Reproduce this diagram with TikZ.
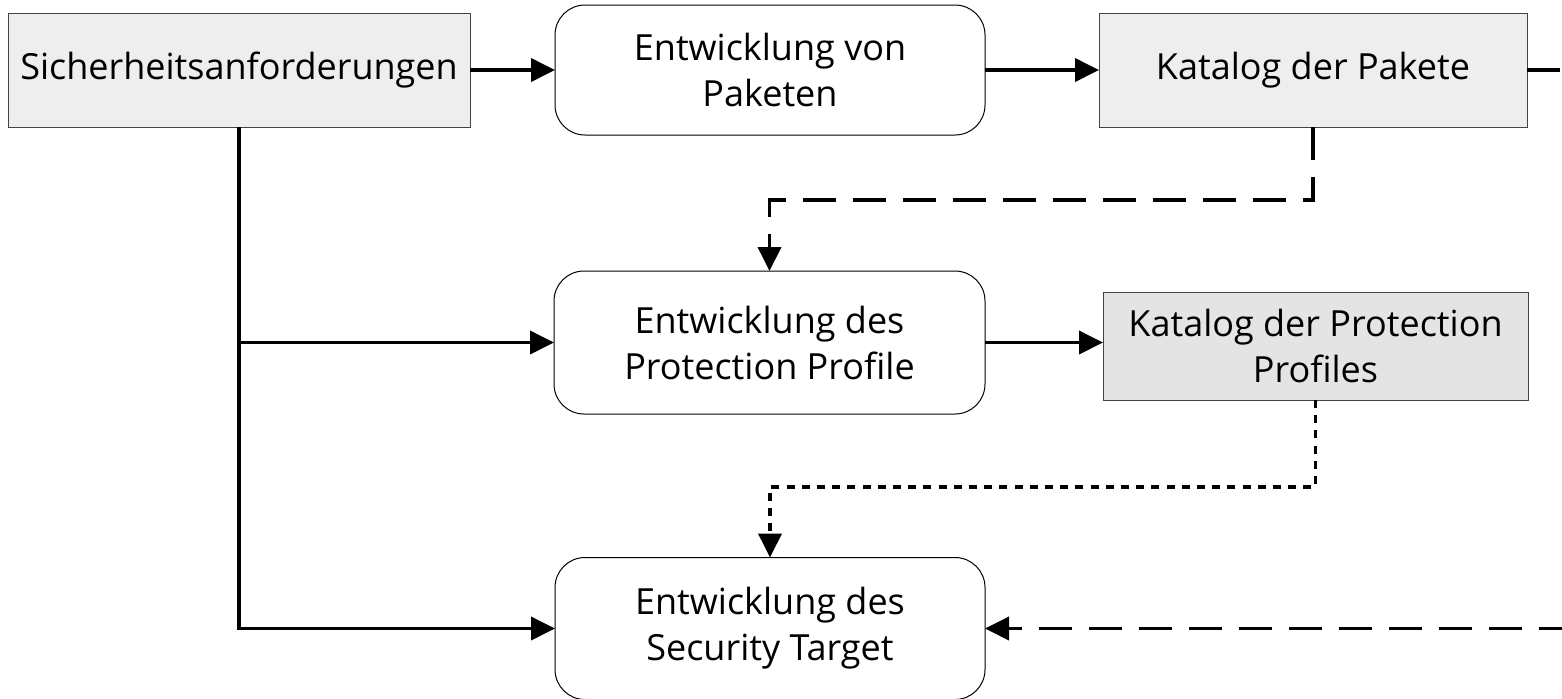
\documentclass[tikz,border=0pt]{standalone}
\usepackage{fontspec}
\setmainfont{Open Sans}
\usetikzlibrary{arrows.meta}
\definecolor{boxgray}{HTML}{EEEEEE}
\definecolor{boxgraydark}{HTML}{E4E4E4}
\definecolor{rimgray}{HTML}{444444}
\begin{document}
\begin{tikzpicture}[x=0.5pt,y=-0.5pt,
  every node/.style={font=\fontsize{18pt}{23pt}\selectfont, align=center, inner sep=0pt, outer sep=0pt},
  databox/.style={draw=rimgray, line width=0.5pt, fill=boxgray},
  procbox/.style={draw=black, line width=0.5pt, fill=white, rounded corners=15pt},
  link/.style={line width=1.9pt, -{Triangle[length=12pt,width=11.5pt]}},
  dashlink/.style={link, dash pattern=on 16.5pt off 8.5pt},
  dotlink/.style={link, dash pattern=on 4pt off 3.6pt}]
\useasboundingbox (0,0) rectangle (1562,698);
\clip (0,0) rectangle (1562,698);

% boxes (sizes in pixel units)
\node[databox, minimum width=231pt, minimum height=57pt] (req) at (239,70) {Sicherheitsanforderungen};
\node[procbox, minimum width=215pt, minimum height=65pt] (devpkg) at (770,70) {Entwicklung von\\Paketen};
\node[databox, minimum width=214pt, minimum height=57pt] (catpkg) at (1313,70) {Katalog der Pakete};
\node[procbox, minimum width=215.5pt, minimum height=71.5pt] (devpp) at (769.5,342.5) {Entwicklung des\\Protection Profile};
\node[databox, fill=boxgraydark, minimum width=212.5pt, minimum height=54pt] (catpp) at (1315.5,346) {Katalog der Protection\\Profiles};
\node[procbox, minimum width=215pt, minimum height=71pt] (devst) at (770,628.5) {Entwicklung des\\Security Target};

% turning points
\coordinate (row1) at (0,200);
\coordinate (row2) at (0,487);
\coordinate (farright) at (1620,0);

% solid flow
\draw[link] (req) -- (devpkg);
\draw[link] (devpkg) -- (catpkg);
\draw[link] (devpp.east) -- (devpp.east -| catpp.west);
\draw[link] (req.south) -- (req.south |- devst.west) -- (devst.west);
\draw[link] (req.south |- devpp.west) -- (devpp.west);

% package catalogue feeds
\draw[dashlink] (catpkg.south) -- (catpkg.south |- row1) -- (devpp.north |- row1) -- (devpp.north);
\draw[dashlink] (catpkg.east) -- (catpkg.east -| farright) -- (farright |- devst.east) -- (devst.east);

% protection profile catalogue feed
\draw[dotlink] (catpp.south) -- (catpp.south |- row2) -- (devst.north |- row2) -- (devst.north);
\end{tikzpicture}
\end{document}
